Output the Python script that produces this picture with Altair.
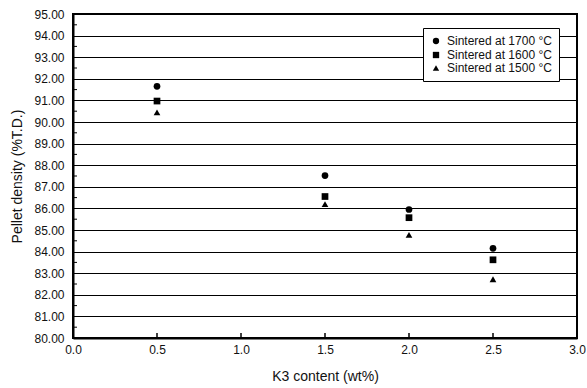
import altair as alt
import pandas as pd

# K3 content (wt%)
k3 = [0.5, 1.5, 2.0, 2.5]
d1700 = [91.65, 87.52, 85.95, 84.15]
d1600 = [90.97, 86.55, 85.57, 83.62]
d1500 = [90.45, 86.20, 84.77, 82.72]
series = ["Sintered at 1700 °C", "Sintered at 1600 °C", "Sintered at 1500 °C"]

y_ticks = [80, 81, 82, 83, 84, 85, 86, 87, 88, 89, 90, 91, 92, 93, 94, 95]
y_minor = [80.5, 81.5, 82.5, 83.5, 84.5, 85.5, 86.5, 87.5, 88.5, 89.5,
           90.5, 91.5, 92.5, 93.5, 94.5]
x_ticks = [0.0, 0.5, 1.0, 1.5, 2.0, 2.5, 3.0]
x_minor = [0.5, 1.0, 1.5, 2.0, 2.5]

rows = []
for name, vals in zip(series, [d1700, d1600, d1500]):
    for k, v in zip(k3, vals):
        rows.append({"k3": k, "density": v, "series": name})
df = pd.DataFrame(rows)

FONT = "Liberation Sans"
W, H = 504, 324

xscale = alt.Scale(domain=[0, 3], nice=False)
yscale = alt.Scale(domain=[80, 95], nice=False, zero=False)

xaxis = alt.Axis(title="K3 content (wt%)", values=x_ticks, format=".1f",
                 grid=False, ticks=False, labelPadding=6, titlePadding=14,
                 labelOverlap=False, labelFlush=False,
                 domainColor="black", domainWidth=2,
                 labelFont=FONT, labelFontSize=12, labelColor="#111",
                 titleFont=FONT, titleFontSize=14, titleFontWeight="normal",
                 titleColor="#111")
yaxis = alt.Axis(title="Pellet density (%T.D.)", values=y_ticks, format=".2f",
                 grid=True, gridColor="black", gridWidth=1, gridOpacity=1,
                 ticks=False, labelPadding=9, titlePadding=9,
                 labelOverlap=False, labelFlush=False,
                 domainColor="black", domainWidth=2,
                 labelFont=FONT, labelFontSize=12, labelColor="#111",
                 titleFont=FONT, titleFontSize=14, titleFontWeight="normal",
                 titleColor="#111")

points = alt.Chart(df).mark_point(filled=True, opacity=1, size=45, color="black").encode(
    x=alt.X("k3:Q", scale=xscale, axis=xaxis),
    y=alt.Y("density:Q", scale=yscale, axis=yaxis),
    shape=alt.Shape("series:N",
                    scale=alt.Scale(domain=series, range=["circle", "square", "triangle-up"]),
                    legend=alt.Legend(title=None, orient="none", legendX=350, legendY=14,
                                      strokeColor="black", fillColor="white", padding=7,
                                      rowPadding=0, labelOffset=5, symbolSize=40,
                                      symbolFillColor="black", symbolStrokeColor="black",
                                      symbolType="circle",
                                      labelFont=FONT, labelFontSize=12, labelColor="#111")),
)

ymin = alt.Chart(pd.DataFrame({"y": y_minor})).mark_rule(color="black", strokeWidth=1).encode(
    y=alt.Y("y:Q", scale=yscale, axis=yaxis), x=alt.value(0), x2=alt.value(4))

xmin = alt.Chart(pd.DataFrame({"x": x_minor})).mark_rule(color="black", strokeWidth=1.5).encode(
    x=alt.X("x:Q", scale=xscale, axis=xaxis), y=alt.value(H), y2=alt.value(H - 5))

chart = alt.layer(points, ymin, xmin).properties(
    width=W, height=H,
    autosize=alt.AutoSizeParams(type="none"),
    padding={"left": 73, "top": 14, "right": 10, "bottom": 50},
    view=alt.ViewBackground(stroke="black", strokeWidth=2, fill="white"),
).configure(background="white")

chart.save("out.html", embed_options={"renderer": "svg", "actions": False})
